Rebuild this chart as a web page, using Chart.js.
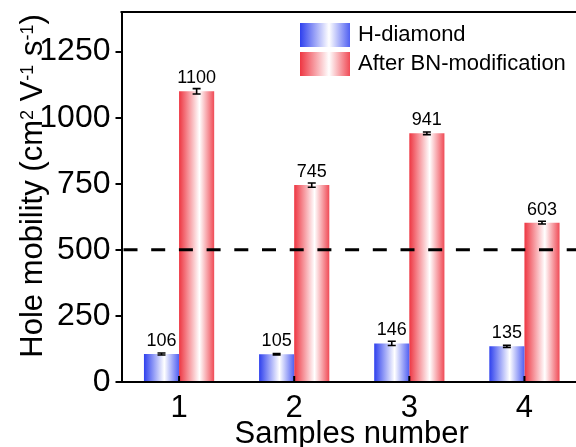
<!DOCTYPE html>
<html>
<head>
<meta charset="utf-8">
<script src="https://cdn.jsdelivr.net/npm/chart.js@4.4.1/dist/chart.umd.min.js"></script>
<style>
  html, body { margin: 0; padding: 0; background: #fff; overflow: hidden; }
  canvas { display: block; }
</style>
</head>
<body>
<canvas id="chart" width="582" height="447"></canvas>
<script>
const samples = ['1', '2', '3', '4'];
const hDiamond = [106, 105, 146, 135];
const afterBN = [1100, 745, 941, 603];
const hDiamondErr = [4, 3, 8, 4];
const afterBNErr = [10, 8, 5, 5];
const seriesNames = ['H-diamond', 'After BN-modification'];
const refLine = 500;

const FONT = "'Liberation Sans', Arial, sans-serif";
// left edge, centre, right edge of each bar's horizontal shading
const shades = [
    ['#2e40ee', '#ffffff', '#5060f2'],
    ['#ee3642', '#ffffff', '#f04b56'],
];
const errors = [hDiamondErr, afterBNErr];

function shade(ctx, left, width, colors) {
    const g = ctx.createLinearGradient(left, 0, left + width, 0);
    g.addColorStop(0, colors[0]);
    g.addColorStop(0.58, colors[1]);
    g.addColorStop(1, colors[2]);
    return g;
}

function drawYTitle(ctx, cx, cy) {
    const parts = [
        ['Hole mobility (cm', 0], ['2', 1], [' V', 0], ['-1', 1],
        [' s', 0], ['-1', 1], [')', 0],
    ];
    const big = `31px ${FONT}`;
    const small = `18px ${FONT}`;
    let total = 0;
    parts.forEach((p) => {
        ctx.font = p[1] ? small : big;
        total += ctx.measureText(p[0]).width;
    });
    ctx.save();
    ctx.translate(cx, cy);
    ctx.rotate(-Math.PI / 2);
    ctx.fillStyle = '#000';
    ctx.textAlign = 'left';
    ctx.textBaseline = 'alphabetic';
    let u = -total / 2;
    parts.forEach((p) => {
        ctx.font = p[1] ? small : big;
        ctx.fillText(p[0], u, p[1] ? -9 : 0);
        u += ctx.measureText(p[0]).width;
    });
    ctx.restore();
}

const decorations = {
    id: 'decorations',
    beforeDatasetsDraw(chart) {
        chart.data.datasets.forEach((ds, i) => {
            chart.getDatasetMeta(i).data.forEach((bar) => {
                bar.options.backgroundColor = shade(chart.ctx, bar.x - bar.width / 2, bar.width, shades[i]);
            });
        });
    },
    afterDatasetsDraw(chart) {
        const { ctx, chartArea, scales: { x, y } } = chart;
        ctx.save();

        // reference line
        ctx.strokeStyle = '#000';
        ctx.lineWidth = 3;
        ctx.setLineDash([14, 13.7]);
        const yRef = y.getPixelForValue(refLine);
        ctx.beginPath();
        ctx.moveTo(chartArea.left + 2, yRef);
        ctx.lineTo(chartArea.right, yRef);
        ctx.stroke();
        ctx.setLineDash([]);

        // error bars + value labels
        chart.data.datasets.forEach((ds, i) => {
            chart.getDatasetMeta(i).data.forEach((bar, j) => {
                const v = ds.data[j];
                const e = errors[i][j];
                const yHi = y.getPixelForValue(v + e);
                const yLo = y.getPixelForValue(v - e);
                ctx.strokeStyle = '#000';
                ctx.lineWidth = 1.6;
                ctx.beginPath();
                ctx.moveTo(bar.x, yHi);
                ctx.lineTo(bar.x, yLo);
                ctx.moveTo(bar.x - 4, yHi);
                ctx.lineTo(bar.x + 4, yHi);
                ctx.moveTo(bar.x - 4, yLo);
                ctx.lineTo(bar.x + 4, yLo);
                ctx.stroke();

                ctx.fillStyle = '#000';
                ctx.font = `18px ${FONT}`;
                ctx.textAlign = 'center';
                ctx.textBaseline = 'alphabetic';
                ctx.fillText(String(v), bar.x, y.getPixelForValue(v) - 8);
            });
        });

        // inward x tick marks
        ctx.lineWidth = 2;
        samples.forEach((s, i) => {
            const px = x.getPixelForValue(i);
            ctx.beginPath();
            ctx.moveTo(px, chartArea.bottom);
            ctx.lineTo(px, chartArea.bottom - 6);
            ctx.stroke();
        });
        ctx.restore();
    },
    afterDraw(chart) {
        const { ctx, chartArea } = chart;
        ctx.save();
        // frame top
        ctx.strokeStyle = '#000';
        ctx.lineWidth = 2;
        ctx.beginPath();
        ctx.moveTo(chartArea.left - 1, chartArea.top);
        ctx.lineTo(chart.width, chartArea.top);
        ctx.stroke();

        drawYTitle(ctx, 42, 186);

        // legend
        ctx.font = `22px ${FONT}`;
        ctx.textAlign = 'left';
        ctx.textBaseline = 'middle';
        seriesNames.forEach((name, i) => {
            const top = 23 + i * 29;
            ctx.fillStyle = shade(ctx, 300, 50, shades[i]);
            ctx.fillRect(300, top, 50, 24);
            ctx.fillStyle = '#000';
            ctx.fillText(name, 358, top + 12);
        });
        ctx.restore();
    },
};

Chart.defaults.font.family = FONT;
Chart.defaults.color = '#000';

new Chart(document.getElementById('chart'), {
    type: 'bar',
    data: {
        labels: samples,
        datasets: [
            { label: seriesNames[0], data: hDiamond, backgroundColor: () => shades[0][0] },
            { label: seriesNames[1], data: afterBN, backgroundColor: () => shades[1][0] },
        ],
    },
    options: {
        responsive: false,
        animation: false,
        events: [],
        layout: { padding: { top: 12, left: 0, right: 0, bottom: 0 } },
        datasets: { bar: { categoryPercentage: 0.61, barPercentage: 1, borderWidth: 0 } },
        plugins: { legend: { display: false }, tooltip: { enabled: false } },
        scales: {
            x: {
                grid: { display: false, drawTicks: false },
                border: { display: true, color: '#000', width: 2 },
                ticks: { font: { size: 31, lineHeight: 1 }, padding: 11 },
                title: {
                    display: true,
                    text: 'Samples number',
                    font: { size: 31, lineHeight: 0.6 },
                    padding: { top: 0, bottom: 3 },
                },
                afterFit: (s) => {
                    s.height = 65;
                    s.paddingLeft = 0;
                    s.paddingRight = 0;
                },
            },
            y: {
                min: 0,
                max: 1400,
                grid: { drawOnChartArea: false, drawTicks: true, tickLength: 6, color: '#000', lineWidth: 2 },
                border: { display: true, color: '#000', width: 2 },
                ticks: {
                    stepSize: 250,
                    includeBounds: false,
                    font: { size: 32 },
                    padding: 5,
                    callback: (v) => String(v),
                },
                afterFit: (s) => {
                    s.width = 121.5;
                    s.paddingTop = 0;
                    s.paddingBottom = 0;
                },
            },
        },
    },
    plugins: [decorations],
});
</script>
</body>
</html>
